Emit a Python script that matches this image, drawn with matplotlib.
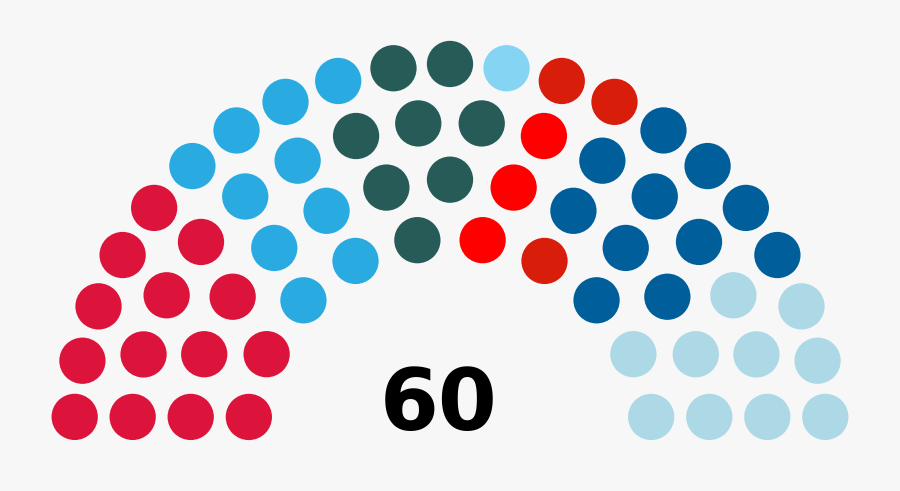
import math
import matplotlib
matplotlib.use("Agg")
import matplotlib.pyplot as plt
from matplotlib.patches import Circle

# Parties in seat order (left to right)
party_names = ["P1", "P2", "P3", "P4", "P5", "P6", "P7", "P8"]
party_seats = [14, 10, 8, 1, 3, 3, 11, 10]
party_colors = ["#DC143C", "#29ABE2", "#265B57", "#85D4F4",
                "#FF0000", "#D81E0B", "#005F9B", "#ADD8E6"]
total_label = "60"

# Standard arch-diagram layout
totals = [3, 15, 33, 61, 95, 138, 189, 247, 313, 388, 469, 559, 657, 762, 876, 997]
N = sum(party_seats)
rows = next(i + 1 for i, t in enumerate(totals) if t >= N)
dot_r = 0.4 / rows
row_counts = []
row_radii = []
for i in range(1, rows + 1):
    R = (3.0 * rows + 4.0 * i - 2.0) / (4.0 * rows)
    J = int(float(N) / totals[rows - 1] * math.pi / (2 * math.asin(2.0 / (3.0 * rows + 4.0 * i - 2.0))))
    row_counts.append(J)
    row_radii.append(R)
left = N - sum(row_counts)
for k in range(left):
    row_counts[rows - 1 - (k % rows)] += 1

pos = []
for R, J in zip(row_radii, row_counts):
    off = math.sin(dot_r / R)
    for j in range(J):
        if J == 1:
            a = math.pi / 2
        else:
            a = j * (math.pi - 2 * off) / (J - 1) + off
        pos.append((a, R * math.cos(a), R * math.sin(a)))
pos.sort(key=lambda p: -p[0])

colors = []
for c, n in zip(party_colors, party_seats):
    colors += [c] * n

fig = plt.figure(figsize=(9, 4.91), dpi=100)
fig.patch.set_facecolor("#F7F7F7")
ax = fig.add_axes([0, 0, 1, 1])
ax.set_facecolor("#F7F7F7")
scale = 231.4
ax.set_xlim(-450 / scale, 450 / scale)
ax.set_ylim(-51 / scale, 440 / scale)
ax.set_aspect("equal")
ax.axis("off")

for (a, x, y), c in zip(pos, colors):
    ax.add_patch(Circle((x, y), dot_r, facecolor=c, edgecolor="none", antialiased=True))

ax.text(-11.5 / scale, 10 / scale, total_label, ha="center", va="baseline",
        fontsize=61, fontweight="bold", color="black", family="DejaVu Sans")

fig.savefig("out.png", dpi=100, facecolor=fig.get_facecolor())
